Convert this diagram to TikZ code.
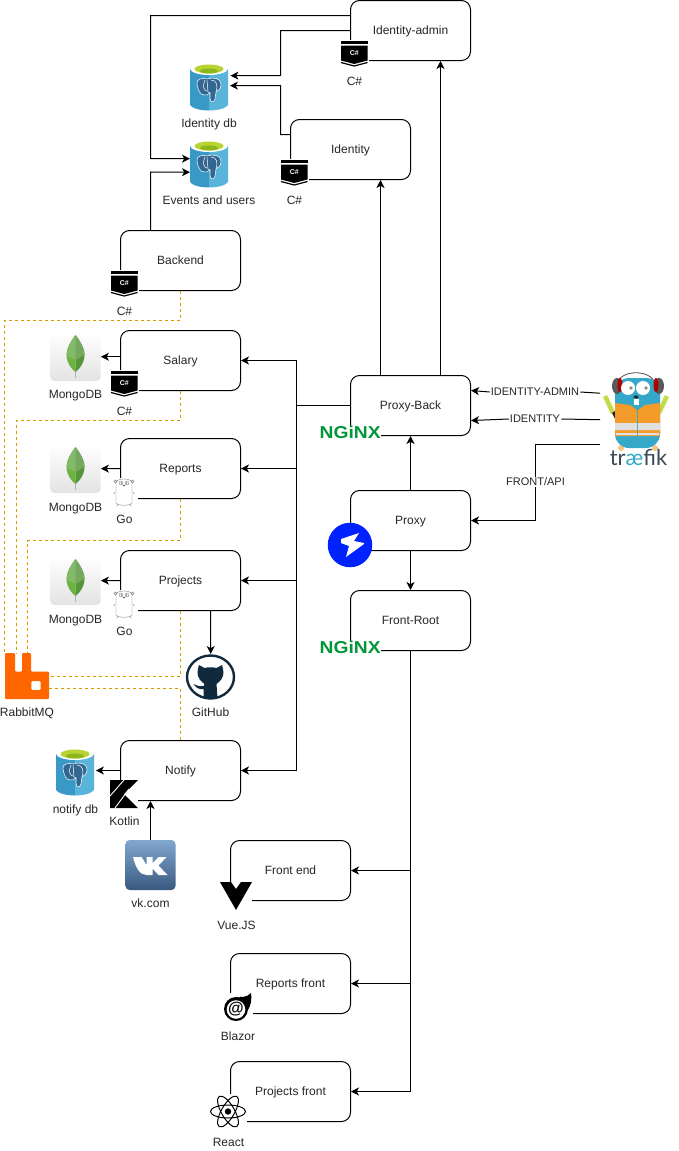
\documentclass[tikz,border=0pt]{standalone}
\usepackage{fontspec}
\setmainfont{Liberation Sans}
\newfontfamily\traefikfont{Lato}
\usetikzlibrary{arrows.meta}
\definecolor{pgleft}{HTML}{3999C6}
\definecolor{pgright}{HTML}{59B4D9}
\definecolor{pgrim}{HTML}{B8D432}
\definecolor{pgpool}{HTML}{8DB51C}
\definecolor{pgblue}{HTML}{336791}
\definecolor{mqline}{HTML}{D79B00}
\definecolor{mqorange}{HTML}{FF6600}
\definecolor{leaflight}{HTML}{82B96A}
\definecolor{leafmid}{HTML}{6DB33F}
\definecolor{leafdark}{HTML}{559638}
\definecolor{nginxgreen}{HTML}{009639}
\definecolor{ghdark}{HTML}{10293C}
\definecolor{proxyblue}{HTML}{0022FF}
\definecolor{gopherblue}{HTML}{35A8C9}
\definecolor{vestorange}{HTML}{F39C2C}
\definecolor{stickgreen}{HTML}{C3DC4A}
\definecolor{traefikgray}{HTML}{3B4A55}
\definecolor{vktop}{HTML}{82A7CF}
\definecolor{vkmid}{HTML}{4E76A3}
\definecolor{vkbottom}{HTML}{3A5A80}
\begin{document}
\begin{tikzpicture}[
    x=1pt, y=-1pt,
    >={Stealth[length=8pt,width=8pt,inset=2.2pt]},
    every node/.style={font=\fontsize{12}{14}\selectfont, text=black!85},
    service/.style={rectangle, rounded corners=9pt, draw, fill=white, line width=1pt, minimum width=120pt, minimum height=60pt, inner sep=0pt, text height=8.6pt, text depth=0pt},
    link/.style={line width=1pt},
    mq_link/.style={line width=1pt, mqline, dash pattern=on 3pt off 3pt},
    tech_label/.style={inner sep=0pt, text height=8.6pt, text depth=0pt},
    edge_label/.style={inner sep=1pt, font=\fontsize{11}{13}\selectfont, text height=7.9pt, text depth=0pt},
    icon_back/.style={rectangle, fill=white, inner sep=0pt, anchor=north west},
    % C# badge
    csharp_icon/.pic={
        \node[icon_back, minimum width=29pt, minimum height=28pt] (-box) at (-1,-1) {};
        \fill (0,0) rectangle (26.5,2.5);
        \fill (0,4.5) -- (26.5,4.5) -- (26.5,19.5) -- (13.25,23) -- (0,19.5) -- cycle;
        \draw[line width=1.2pt] (0,21.5) -- (13.25,25) -- (26.5,21.5);
        \node[inner sep=0pt, text=white, font=\bfseries\fontsize{7}{8}\selectfont] (-text) at (13.25,12.5) {C\#};
    },
    % Postgres cylinder
    pg_icon/.pic={
        \node[icon_back, minimum width=38pt, minimum height=48pt] (-box) at (0,0) {};
        \fill[pgleft] (0,6.5) -- (0,43) .. controls (2,46.5) and (11,48.5) .. (19,48.5) -- (19,6.5) -- cycle;
        \fill[pgright] (38,6.5) -- (38,43) .. controls (36,46.5) and (27,48.5) .. (19,48.5) -- (19,6.5) -- cycle;
        \fill[white] (19,6.5) ellipse [x radius=19pt, y radius=6.5pt];
        \fill[pgrim] (19,7) ellipse [x radius=14.5pt, y radius=4.5pt];
        \fill[pgpool] (19,9) ellipse [x radius=9pt, y radius=2.5pt];
        \draw[white, fill=pgblue, line width=0.5pt] (7,22) .. controls (6,17) and (12,15.5) .. (17,17) .. controls (23,15) and (31,16) .. (31,22) .. controls (31,26) and (29,29) .. (26,30) -- (25,37) .. controls (24,41) and (20,41) .. (20,36) -- (20,31) .. controls (18,32) and (17,34) .. (14,33) .. controls (10,33) and (8,28) .. (7,22) -- cycle;
        \draw[white, line width=0.5pt] (15,18) .. controls (12,24) and (14,29) .. (17,29) (17,18) -- (18,30) -- (20,31) (21,18) .. controls (27,18) and (28,24) .. (26,30);
    },
    % MongoDB tile
    mongo_icon/.pic={
        \node[icon_back, minimum width=50pt, minimum height=49pt] (-box) at (0,0) {};
        \shade[top color=white, bottom color=black!11, rounded corners=4pt] (0,0) rectangle (50,49);
        \draw[black!30, line width=1.3pt] (25,36) -- (25,46);
        \fill[leafmid] (25,3) .. controls (19,11) and (16,17) .. (16,23) .. controls (16,31) and (21,37) .. (25,40) -- cycle;
        \fill[leafdark] (25,3) .. controls (31,11) and (34,17) .. (34,23) .. controls (34,31) and (29,37) .. (25,40) -- cycle;
        \fill[leaflight] (25,3) .. controls (19,11) and (16,17) .. (16,23) -- (25,28) -- cycle;
        \fill[leaflight!90!black] (25,3) .. controls (31,11) and (34,17) .. (34,23) -- (25,28) -- cycle;
    },
    % Go gopher
    go_icon/.pic={
        \node[icon_back, minimum width=28pt, minimum height=28pt] (-box) at (0,0) {};
        \draw[black!50, fill=white, line width=0.4pt] (6,4) .. controls (8,0) and (20,0) .. (22,4) -- (22,25) .. controls (21,28) and (7,28) .. (6,25) -- cycle;
        \draw[black!50, fill=white, line width=0.4pt] (5.5,3.5) circle [radius=1.5pt] (22.5,3.5) circle [radius=1.5pt];
        \draw[black!50, line width=0.4pt] (5,14) -- (3.5,16) (23,14) -- (24.5,16) (8,27) -- (6.5,28) (20,27) -- (21.5,28);
        \draw[black!60, fill=white, line width=0.3pt] (11,5) circle [radius=2pt] (17,5) circle [radius=2pt];
        \fill[black!80] (11.5,5) circle [radius=0.7pt] (16.5,5) circle [radius=0.7pt] (14,7.5) circle [radius=0.9pt];
    },
    % Kotlin K
    kotlin_icon/.pic={
        \node[icon_back, minimum width=28pt, minimum height=28pt] (-box) at (0,0) {};
        \fill (0,0) -- (28,0) -- (14,14) -- (28,28) -- (0,28) -- cycle;
        \draw[white, line width=0.9pt] (14,0) -- (0,16) (19,9) -- (5,28);
    },
    % Vue V
    vue_icon/.pic={
        \node[icon_back, minimum width=32pt, minimum height=28pt] (-box) at (0,0) {};
        \fill (0,0) -- (11,0) -- (16,7) -- (21,0) -- (32,0) -- (16,28) -- cycle;
    },
    % Blazor flame
    blazor_icon/.pic={
        \node[icon_back, minimum width=30pt, minimum height=28pt] (-box) at (0,0) {};
        \fill (13,16) circle [radius=12pt];
        \fill (14,4.5) .. controls (18,5) and (18,2) .. (20,4) .. controls (23,4) and (26,2) .. (28,0) .. controls (29,6) and (28,12) .. (25,17) -- (20,10) -- cycle;
        \fill[white] (13,16.5) circle [radius=9.3pt];
        \node[inner sep=0pt, text=black, font=\bfseries\fontsize{16}{18}\selectfont] (-at) at (13,16) {@};
    },
    % React atom, origin at its centre
    react_icon/.pic={
        \node[icon_back, minimum width=37pt, minimum height=35pt] (-box) at (-18.5,-17.5) {};
        \draw[line width=1pt] (0,0) ellipse [x radius=17.5pt, y radius=6.5pt];
        \draw[line width=1pt, rotate=60] (0,0) ellipse [x radius=17.5pt, y radius=6.5pt];
        \draw[line width=1pt, rotate=120] (0,0) ellipse [x radius=17.5pt, y radius=6.5pt];
        \fill (0,0) circle [radius=3.2pt];
    },
    % RabbitMQ mark
    rabbit_icon/.pic={
        \node[icon_back, minimum width=44pt, minimum height=46pt] (-box) at (0,0) {};
        \fill[mqorange, rounded corners=1pt, even odd rule] (0,46) -- (0,0) -- (10,0) -- (10,18.7) -- (17,18.7) -- (17,0) -- (26,0) -- (26,18.7) -- (44,18.7) -- (44,46) -- cycle (26.3,28) rectangle (35.7,37);
    },
    % GitHub cat in a ring
    github_icon/.pic={
        \node[icon_back, minimum width=50pt, minimum height=46pt] (-box) at (-25,-23) {};
        \draw[ghdark, fill=white, line width=2.4pt] (0,0) ellipse [x radius=23.5pt, y radius=21.5pt];
        \fill[ghdark] (-11.5,-12) -- (-6,-9) .. controls (-2,-10) and (2,-10) .. (6,-9) -- (11.5,-12) .. controls (13,-7) and (14,-2) .. (11,2) .. controls (9,5) and (7,6) .. (6,7) -- (7,21) -- (-7,21) -- (-7,12) .. controls (-12,13) and (-15,10) .. (-17,7) .. controls (-14,8) and (-12,10) .. (-7,9) -- (-6,7) .. controls (-7,6) and (-9,5) .. (-11,2) .. controls (-14,-2) and (-13,-7) .. (-11.5,-12) -- cycle;
    },
    % VK tile
    vk_icon/.pic={
        \node[icon_back, minimum width=50pt, minimum height=50pt] (-box) at (0,0) {};
        \shade[top color=vktop, middle color=vkmid, bottom color=vkbottom, rounded corners=4pt] (0,0) rectangle (50,50);
        \fill[white] (7.5,17) -- (16,17) -- (21,25) -- (21,17) -- (27,17) -- (27,23) -- (33,17) -- (41,17) -- (33,25.5) -- (42,35) -- (33,35) -- (27,28.5) -- (27,35) -- (21,35) .. controls (14,35) and (10,27) .. (7.5,17) -- cycle;
    },
    % nginx wordmark
    nginx_icon/.pic={
        \node[icon_back, minimum width=61pt, minimum height=13pt, text=nginxgreen] (-box) at (0,0) {\resizebox{61pt}{12.5pt}{\bfseries NGiNX}};
    },
    % Proxy bolt
    bolt_icon/.pic={
        \node[circle, fill=proxyblue, minimum size=44.5pt, inner sep=0pt] (-box) at (0,0) {};
        \fill[white] (9,-12) -- (-9,-6) -- (-9,-2) -- (-1,1) -- (-4,12) -- (14,-1) -- (14,-2) -- (4,-4) -- cycle;
    },
    % Traefik gopher
    traefik_icon/.pic={
        \node[icon_back, minimum width=72pt, minimum height=95pt] (-box) at (0,0) {};
        \draw[black!70, line width=0.8pt] (17,12) .. controls (20,-3) and (52,-3) .. (55,12);
        \fill[stickgreen] (3,25) -- (7,23) -- (15,40) -- (11,42) -- cycle (69,25) -- (65,23) -- (57,40) -- (61,42) -- cycle;
        \fill[black!85] (12,41) -- (15,39) -- (18,46) -- (15,47) -- cycle (60,41) -- (57,39) -- (54,46) -- (57,47) -- cycle;
        \fill[vestorange!60!white] (21,76) circle [radius=3pt] (55,76) circle [radius=3pt];
        \fill[gopherblue, rounded corners=14pt] (15,6) -- (60,6) -- (60,76) -- (15,76) -- cycle;
        \fill[black!65] (17,14) ellipse [x radius=5pt, y radius=8pt] (59,14) ellipse [x radius=5pt, y radius=8pt];
        \fill[red!70!black] (20,13) ellipse [x radius=2.5pt, y radius=7pt] (56,13) ellipse [x radius=2.5pt, y radius=7pt];
        \fill[vestorange] (15,31) -- (30,33) -- (37,38) -- (37,64) -- (15,64) -- cycle (60,31) -- (45,33) -- (38,38) -- (38,64) -- (60,64) -- cycle;
        \fill[black!12] (15,51) rectangle (37,58) (38,51) rectangle (60,58) (16,61) rectangle (37,63) (38,61) rectangle (59,63);
        \fill[white] (28,16) ellipse [x radius=7pt, y radius=7pt] (43,16) ellipse [x radius=7pt, y radius=7pt];
        \fill[black!45] (31,16) circle [radius=1.8pt] (46,16) circle [radius=1.8pt];
        \fill[black!85] (36,25) ellipse [x radius=2.5pt, y radius=1.6pt];
        \fill[white] (33.5,27) rectangle (38.5,33);
    },
]

\useasboundingbox (0,0) rectangle (679,1151);

% services
\node[service] (admin) at (410.5,30.5) {Identity-admin};
\node[service] (identity) at (350.5,149.5) {Identity};
\node[service] (backend) at (180.5,260.5) {Backend};
\node[service] (salary) at (180.5,360.5) {Salary};
\node[service] (reports) at (180.5,468.5) {Reports};
\node[service] (projects) at (180.5,580.5) {Projects};
\node[service] (notify) at (180.5,770.5) {Notify};
\node[service] (proxyback) at (410.5,405.5) {Proxy-Back};
\node[service] (proxy) at (410.5,520.5) {Proxy};
\node[service] (frontroot) at (410.5,620.5) {Front-Root};
\node[service] (frontend) at (290.5,870.5) {Front end};
\node[service] (reportsfront) at (290.5,983.5) {Reports front};
\node[service] (projectsfront) at (290.5,1091.5) {Projects front};

% icons
\pic (admincs) at (341,41) {csharp_icon};
\pic (identitycs) at (281,160) {csharp_icon};
\pic (backendcs) at (111,271) {csharp_icon};
\pic (salarycs) at (111,371) {csharp_icon};
\pic (reportsgo) at (110,478) {go_icon};
\pic (projectsgo) at (110,590) {go_icon};
\pic (notifykt) at (110,780) {kotlin_icon};
\pic (frontvue) at (220,882) {vue_icon};
\pic (frontblazor) at (223,993) {blazor_icon};
\pic (frontreact) at (228,1111.5) {react_icon};
\pic (backnginx) at (319.5,425.5) {nginx_icon};
\pic (rootnginx) at (319.5,640.5) {nginx_icon};
\pic (proxybolt) at (350,545) {bolt_icon};
\pic (identitydb) at (190,62) {pg_icon};
\pic (eventsdb) at (190,139) {pg_icon};
\pic (notifydb) at (56,747) {pg_icon};
\pic (salarymongo) at (50.5,332) {mongo_icon};
\pic (reportsmongo) at (50.5,444) {mongo_icon};
\pic (projectsmongo) at (50.5,556) {mongo_icon};
\pic (rabbit) at (5,653) {rabbit_icon};
\pic (github) at (210.5,677) {github_icon};
\pic (vk) at (125.5,840) {vk_icon};
\pic (traefik) at (600,372) {traefik_icon};

% technology labels
\node[tech_label] (identitydbl) at (209,123.5) {Identity db};
\node[tech_label] (eventsdbl) at (209,200.5) {Events and users};
\node[tech_label] (admincsl) at (354.5,81) {C\#};
\node[tech_label] (identitycsl) at (294.5,200.5) {C\#};
\node[tech_label] (backendcsl) at (124.5,311.5) {C\#};
\node[tech_label] (salarycsl) at (124.5,411) {C\#};
\node[tech_label] (salarymongol) at (75.5,394) {MongoDB};
\node[tech_label] (reportsmongol) at (75.5,507) {MongoDB};
\node[tech_label] (projectsmongol) at (75.5,619) {MongoDB};
\node[tech_label] (reportsgol) at (124.5,519.5) {Go};
\node[tech_label] (projectsgol) at (124.5,631.5) {Go};
\node[tech_label] (githubl) at (210.5,712.5) {GitHub};
\node[tech_label] (rabbitl) at (27,712.5) {RabbitMQ};
\node[tech_label] (notifydbl) at (75.5,809) {notify db};
\node[tech_label] (notifyktl) at (124.5,821.5) {Kotlin};
\node[tech_label] (vkl) at (150.5,903.5) {vk.com};
\node[tech_label] (frontvuel) at (236.5,925.5) {Vue.JS};
\node[tech_label] (frontblazorl) at (238,1036) {Blazor};
\node[tech_label] (frontreactl) at (228.5,1142.5) {React};
\node[inner sep=0pt, font=\traefikfont\fontsize{22}{24}\selectfont, text=traefikgray] (traefikl) at (638.5,457.5) {tr{\color{gopherblue}æ}fik};

% database links
\draw[link, ->] (admin.west) -- (280.5,30.5) -- (280.5,75.5) -- ([yshift=10.5pt,xshift=2pt]identitydb-box.east);
\draw[link, ->] ([yshift=15pt]identity.west) -- (280.5,134.5) -- (280.5,85.5) -- ([yshift=0.5pt,xshift=1.5pt]identitydb-box.east);
\draw[link, ->] ([yshift=15pt]admin.west) -- (150.5,15.5) -- (150.5,158.5) -- ([yshift=4.5pt]eventsdb-box.west);
\draw[link, ->] ([xshift=-30pt]backend.north) -- (150.5,172) -- ([yshift=-9pt]eventsdb-box.west);
\draw[link, ->] (salary.west |- salarymongo-box.east) -- (salarymongo-box.east);
\draw[link, ->] (reports.west) -- (reportsmongo-box.east);
\draw[link, ->] (projects.west) -- (projectsmongo-box.east);
\draw[link, ->] (notify.west) -- ([xshift=1.5pt]notifydb-box.east |- notify.west);
\draw[link, ->] ([xshift=-30pt]notify.south |- vk-box.north) -- ([xshift=-30pt]notify.south);
\draw[link, ->] ([xshift=30pt]projects.south) -- (github-box.north);

% proxy links
\draw[link, ->] ([xshift=-30pt]proxyback.north) -- ([xshift=30pt]identity.south);
\draw[link, ->] ([xshift=30pt]proxyback.north) -- ([xshift=30pt]admin.south);
\draw[link, ->] (proxy.north) -- (proxyback.south);
\draw[link, ->] (proxy.south) -- (frontroot.north);

% bus to the services
\coordinate (bus) at (296,405.5);
\draw[link] (proxyback.west) -- (bus);
\draw[link, ->] (bus) |- (salary.east);
\draw[link, ->] (bus) |- (reports.east);
\draw[link, ->] (bus) |- (projects.east);
\draw[link, ->] (bus) |- (notify.east);

% bus to the fronts
\draw[link, ->] (frontroot.south) |- (frontend.east);
\draw[link, ->] (frontroot.south) |- (reportsfront.east);
\draw[link, ->] (frontroot.south) |- (projectsfront.east);

% traefik routes
\node[edge_label] (adminroute) at (535,392) {IDENTITY-ADMIN};
\node[edge_label] (identityroute) at (535,419) {IDENTITY};
\node[edge_label] (frontroute) at (535.5,482) {FRONT/API};
\draw[link] ([yshift=26.5pt]traefik-box.west) -- (adminroute.east);
\draw[link, ->] (adminroute.west) -- ([yshift=15pt]proxyback.east);
\draw[link] (traefik-box.west) -- (identityroute.east);
\draw[link, ->] (identityroute.west) -- ([yshift=-15pt]proxyback.east);
\draw[link] ([yshift=-25pt]traefik-box.west) -| (frontroute.north);
\draw[link, ->] (frontroute.south) |- (proxy.east);

% message queue
\coordinate (mqa) at (4.5,320.5);
\coordinate (mqb) at (16,420.5);
\coordinate (mqc) at (27.5,540.5);
\draw[mq_link] (backend.south) |- (mqa) -- (mqa |- rabbit-box.north);
\draw[mq_link] (salary.south) |- (mqb) -- (mqb |- rabbit-box.north);
\draw[mq_link] (reports.south) |- (mqc) -- (mqc |- rabbit-box.north);
\draw[mq_link] (projects.south) |- (rabbit-box.east);
\draw[mq_link] (notify.north) |- ([yshift=-12.5pt]rabbit-box.east);

\end{tikzpicture}
\end{document}
